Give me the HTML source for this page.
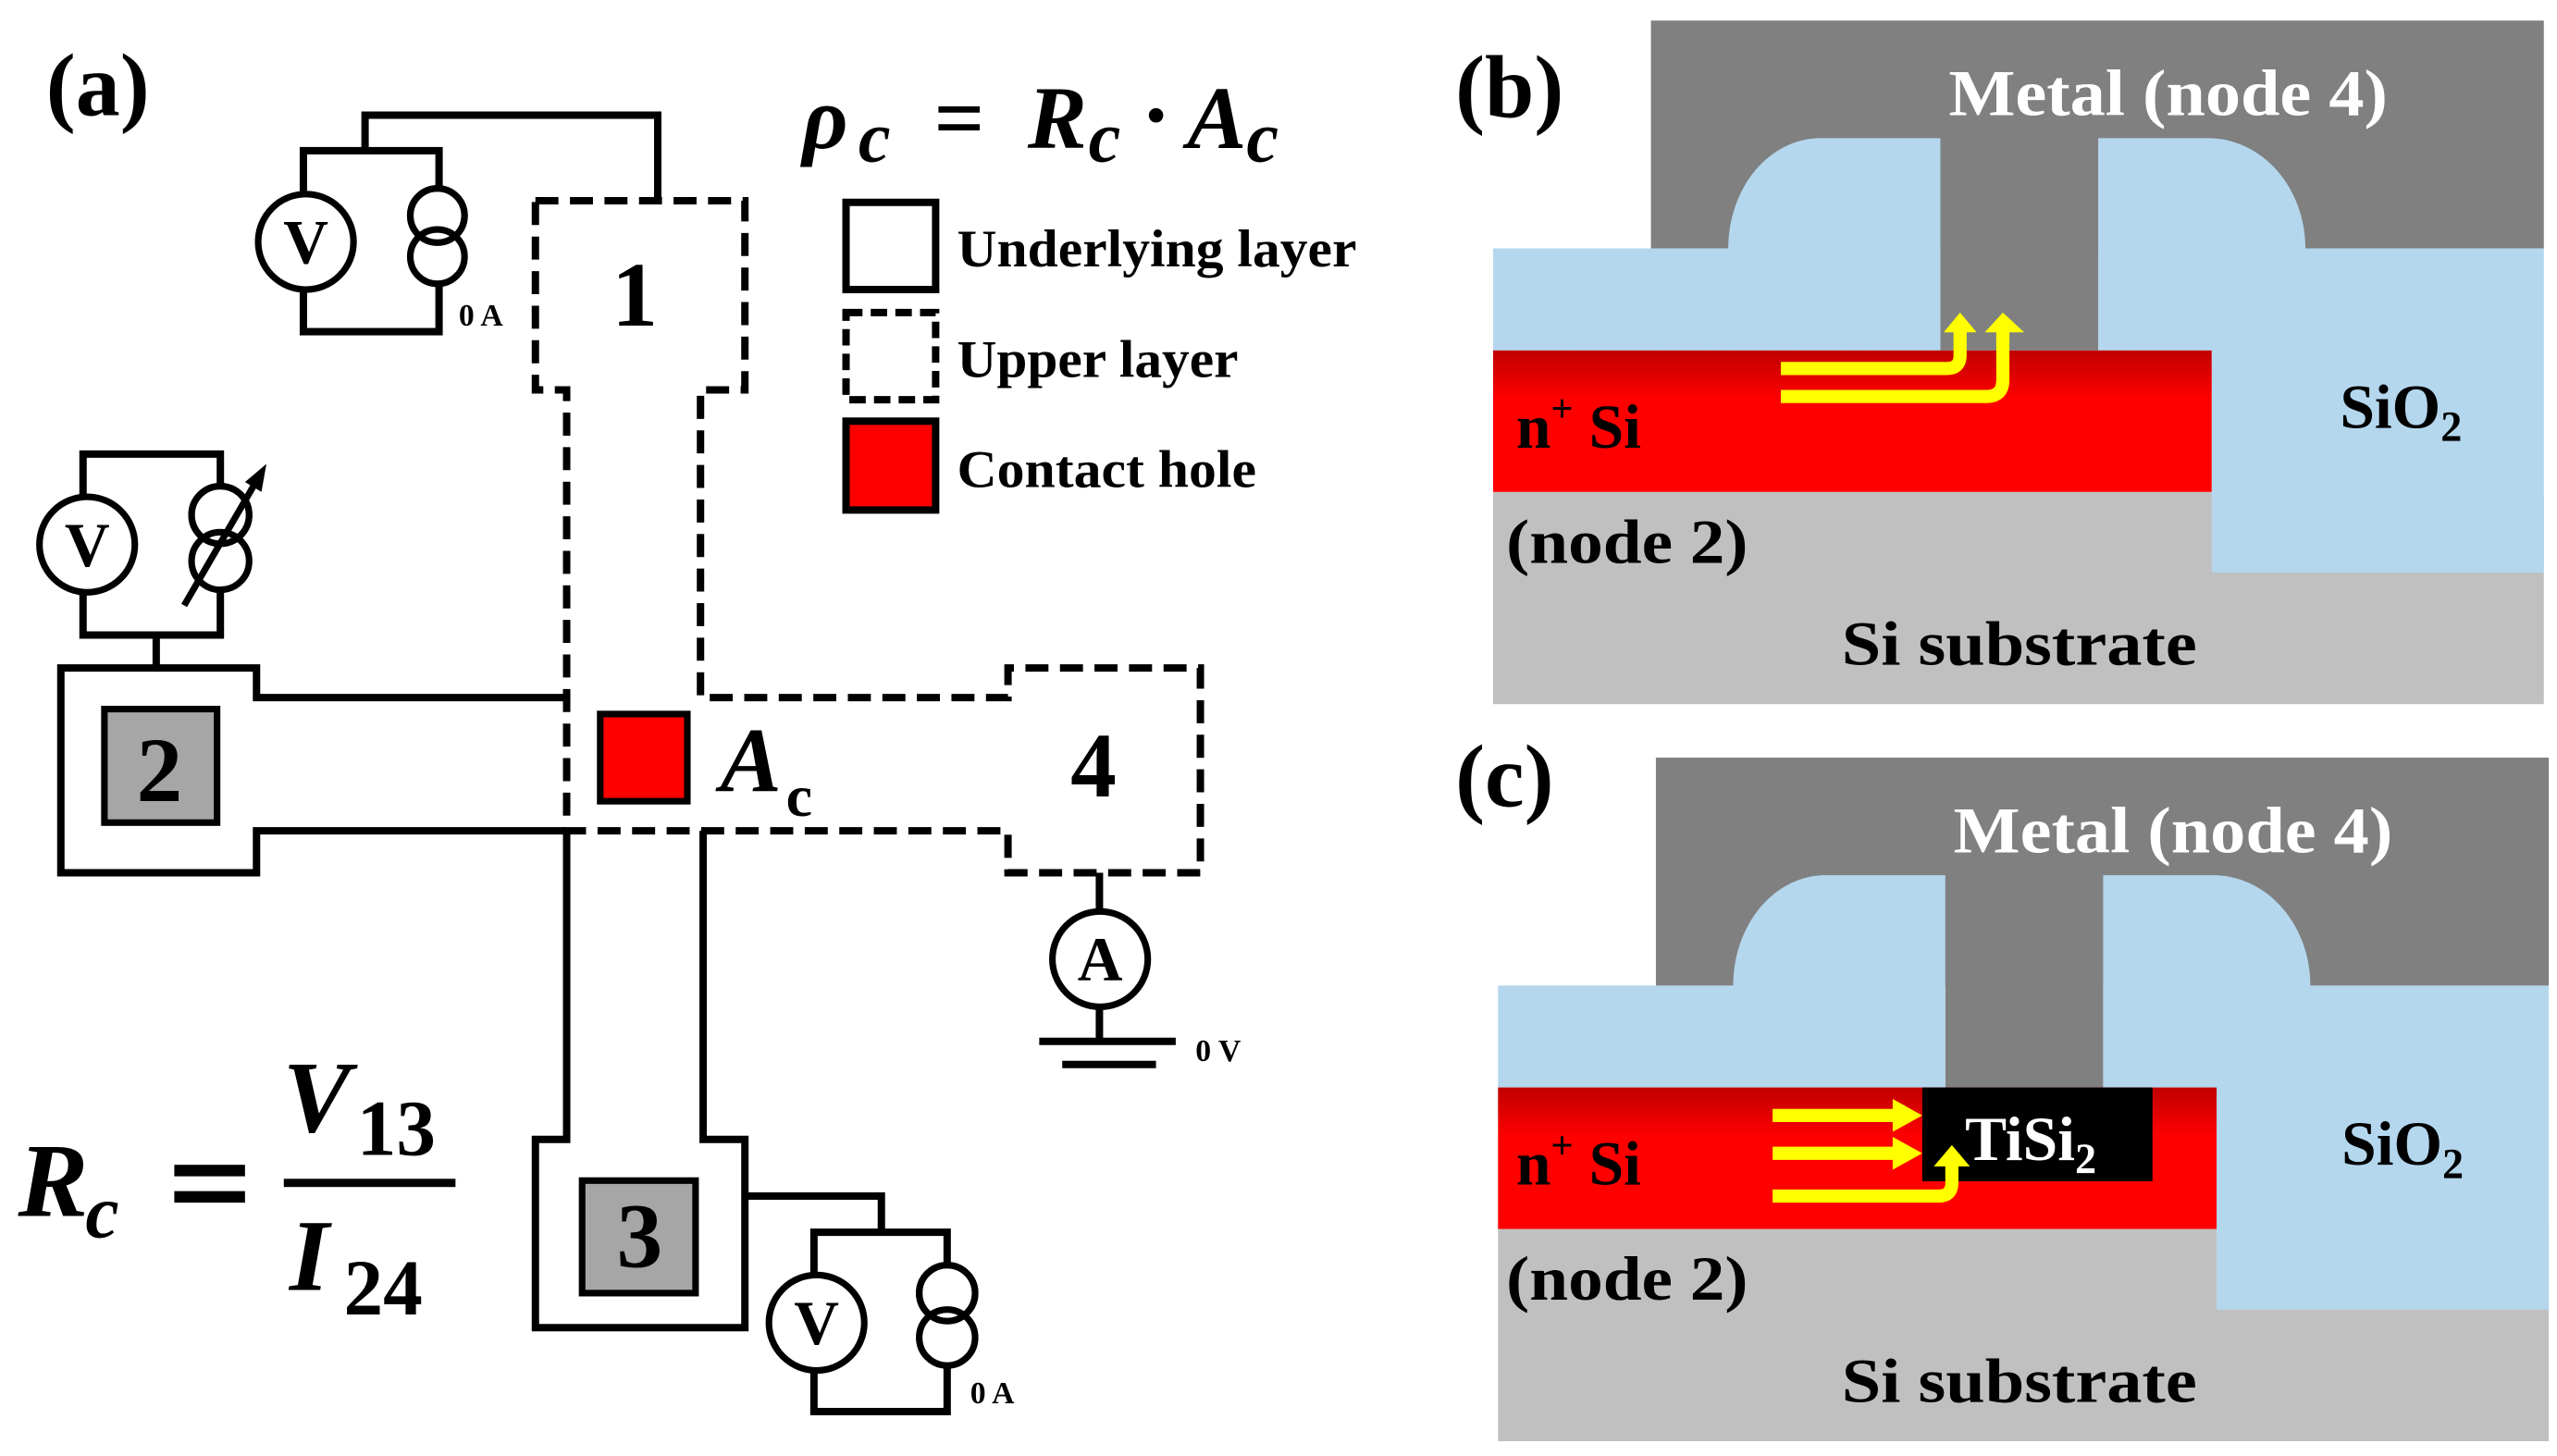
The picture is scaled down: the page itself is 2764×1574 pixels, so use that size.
<!DOCTYPE html>
<html><head><meta charset="utf-8"><style>
html,body{margin:0;padding:0;background:#fff;}
svg{display:block;}
text{font-family:"Liberation Serif",serif;font-weight:bold;}
</style></head><body>
<svg width="2764" height="1574" viewBox="0 0 1555 885" preserveAspectRatio="none" xmlns="http://www.w3.org/2000/svg">
<defs>
<linearGradient id="rg" x1="0" y1="0" x2="0" y2="1">
<stop offset="0" stop-color="#c00000"/><stop offset="0.35" stop-color="#ff0000"/><stop offset="1" stop-color="#ff0000"/>
</linearGradient>
</defs>
<rect width="1555" height="885" fill="#fff"/>

<!-- ===== Panel (a) ===== -->
<text x="28" y="70" font-size="54">(a)</text>
<g fill="none" stroke="#000" stroke-width="4.5" stroke-linejoin="miter">
<!-- upper layer dashed -->
<polygon points="325.6,122 453,122 453,237 426,237 426,424 613,424 613,406 730,406 730,530.5 613,530.5 613,505 344.6,505 344.6,237 325.6,237" stroke-dasharray="14,7"/>
<!-- underlying solid -->
<polyline points="344.6,424 156,424 156,406 37,406 37,530.5 156,530.5 156,505 344.6,505"/>
<polyline points="344.6,505 344.6,692.6 325.6,692.6 325.6,807 453,807 453,692.6 427.6,692.6 427.6,505"/>
<!-- top circuit -->
<polyline points="222,91.6 222,70 400,70 400,122"/>
<rect x="184.5" y="91.6" width="82.5" height="110"/>
<!-- left circuit -->
<rect x="50.5" y="276" width="83.5" height="110"/>
<line x1="95" y1="386" x2="95" y2="406"/>
<!-- bottom right circuit -->
<polyline points="453,727 536,727 536,749"/>
<rect x="495" y="749" width="81" height="109"/>
<!-- ammeter -->
<line x1="668.6" y1="530.5" x2="668.6" y2="633"/>
<line x1="632" y1="633" x2="715" y2="633"/>
<line x1="646" y1="647" x2="703" y2="647"/>
</g>
<!-- circles -->
<g fill="#fff" stroke="#000" stroke-width="4">
<circle cx="186" cy="147" r="29"/>
<circle cx="266" cy="131" r="16.5"/><circle cx="266" cy="156" r="16.5"/>
<circle cx="53" cy="331" r="29"/>
<circle cx="134" cy="313" r="17.5"/><circle cx="134" cy="341" r="17.5"/>
<circle cx="496.6" cy="804" r="29"/>
<circle cx="576" cy="786" r="17"/><circle cx="576" cy="813" r="17"/>
<circle cx="669" cy="583" r="29"/>
</g>
<g fill="none" stroke="#000" stroke-width="4">
<circle cx="266" cy="131" r="16.5"/>
<circle cx="134" cy="313" r="17.5"/>
<circle cx="576" cy="786" r="17"/>
</g>
<!-- variable source arrow -->
<line x1="112" y1="368" x2="155" y2="294" stroke="#000" stroke-width="4"/>
<polygon points="162,282 149,293 159,299" fill="#000"/>
<g font-size="38" text-anchor="middle">
<text x="186" y="160">V</text><text x="53" y="344">V</text><text x="496.6" y="817">V</text><text x="669" y="596">A</text>
</g>
<g font-size="19"><text x="279" y="198">0 A</text><text x="590" y="853">0 A</text><text x="727" y="645">0 V</text></g>
<!-- gray pads -->
<rect x="63.5" y="431" width="68.5" height="69" fill="#a6a6a6" stroke="#000" stroke-width="4"/>
<rect x="354" y="717.6" width="69" height="68.4" fill="#a6a6a6" stroke="#000" stroke-width="4"/>
<g font-size="56" text-anchor="middle">
<text x="97" y="487">2</text><text x="389" y="770">3</text><text x="386" y="198">1</text><text x="665" y="484">4</text>
</g>
<!-- contact -->
<rect x="365" y="434" width="53" height="53" fill="#ff0000" stroke="#000" stroke-width="4"/>
<text x="438" y="481" font-size="56" font-style="italic">A</text>
<text x="478" y="496" font-size="36">c</text>
<!-- legend -->
<g stroke="#000" stroke-width="4.5">
<rect x="514.5" y="123" width="54.5" height="53" fill="#fff"/>
<rect x="514.5" y="190" width="54.5" height="53" fill="#fff" stroke-dasharray="10,5"/>
<rect x="514.5" y="256" width="54.5" height="54" fill="#ff0000"/>
</g>
<g font-size="32">
<text x="582" y="162" textLength="243" lengthAdjust="spacingAndGlyphs">Underlying layer</text>
<text x="582" y="229" textLength="171" lengthAdjust="spacingAndGlyphs">Upper layer</text>
<text x="582" y="296" textLength="182" lengthAdjust="spacingAndGlyphs">Contact hole</text>
</g>
<!-- rho formula -->
<g font-style="italic">
<text x="488" y="90" font-size="54">ρ</text>
<text x="522" y="98" font-size="44">c</text>
<text x="568" y="90" font-size="54" font-style="normal">=</text>
<text x="625" y="90" font-size="54">R</text>
<text x="662" y="98" font-size="44">c</text>
<text x="694" y="88" font-size="54" font-style="normal">·</text>
<text x="722" y="90" font-size="54">A</text>
<text x="758" y="98" font-size="44">c</text>
</g>
<!-- Rc formula -->
<text x="11" y="739" font-size="64" font-style="italic">R</text>
<text x="52" y="752" font-size="46" font-style="italic">c</text>
<rect x="106" y="708" width="43" height="7" fill="#000"/>
<rect x="106" y="724" width="43" height="7" fill="#000"/>
<rect x="172.6" y="716.5" width="104.4" height="5" fill="#000"/>
<text x="172" y="688" font-size="62" font-style="italic">V</text>
<text x="217" y="702" font-size="48">13</text>
<text x="176" y="784" font-size="62" font-style="italic">I</text>
<text x="209" y="799" font-size="48">24</text>

<!-- ===== Panel (b) ===== -->
<text x="885" y="71" font-size="54">(b)</text>
<rect x="908" y="299" width="639" height="129" fill="#c0c0c0"/>
<rect x="1004" y="12.5" width="543" height="139" fill="#808080"/>
<rect x="1180" y="140" width="96" height="73" fill="#808080"/>
<path d="M908,151 H1051 V151 A56,67 0 0 1 1107,84 H1180 V213 H908 Z" fill="#b4d7ee"/>
<path d="M1276,84 H1343 A59,67 0 0 1 1402,151 H1547 V348 H1345 V213 H1276 Z" fill="#b4d7ee"/>
<rect x="908" y="213" width="437" height="86" fill="url(#rg)"/>
<g fill="none" stroke="#ffff00" stroke-width="8">
<path d="M1083,224 H1184 Q1192,224 1192,216 V198"/>
<path d="M1083,241 H1208 Q1218,241 1218,231 V198"/>
</g>
<polygon points="1182,202 1192,190 1202,202" fill="#ffff00"/>
<polygon points="1207,202 1218,190 1231,202" fill="#ffff00"/>
<text x="1185" y="70" font-size="40" fill="#fff" textLength="267" lengthAdjust="spacingAndGlyphs">Metal (node 4)</text>
<text x="922" y="272" font-size="38">n<tspan font-size="24" dy="-16">+</tspan><tspan dy="16"> Si</tspan></text>
<text x="1423" y="260" font-size="38">SiO<tspan font-size="26" dy="8">2</tspan></text>
<text x="916" y="342" font-size="38" textLength="147" lengthAdjust="spacingAndGlyphs">(node 2)</text>
<text x="1120" y="404" font-size="38" textLength="216" lengthAdjust="spacingAndGlyphs">Si substrate</text>

<!-- ===== Panel (c) ===== -->
<text x="885" y="490" font-size="54">(c)</text>
<g transform="translate(3,448)">
<rect x="908" y="299" width="639" height="129" fill="#c0c0c0"/>
<rect x="1004" y="12.5" width="543" height="139" fill="#808080"/>
<rect x="1180" y="140" width="96" height="73" fill="#808080"/>
<path d="M908,151 H1051 V151 A56,67 0 0 1 1107,84 H1180 V213 H908 Z" fill="#b4d7ee"/>
<path d="M1276,84 H1343 A59,67 0 0 1 1402,151 H1547 V348 H1345 V213 H1276 Z" fill="#b4d7ee"/>
<rect x="908" y="213" width="437" height="86" fill="url(#rg)"/>
<rect x="1166" y="213" width="140" height="57" fill="#000"/>
<g fill="none" stroke="#ffff00" stroke-width="8">
<path d="M1075,230 H1150"/>
<path d="M1075,253 H1150"/>
<path d="M1075,279 H1176 Q1184,279 1184,271 V258"/>
</g>
<polygon points="1148,220 1166,230 1148,240" fill="#ffff00"/>
<polygon points="1148,243 1166,253 1148,263" fill="#ffff00"/>
<polygon points="1173,261 1184,248 1195,261" fill="#ffff00"/>
<text x="1192" y="257" font-size="38" fill="#fff">TiSi<tspan font-size="26" dy="8">2</tspan></text>
<text x="1185" y="70" font-size="40" fill="#fff" textLength="267" lengthAdjust="spacingAndGlyphs">Metal (node 4)</text>
<text x="919" y="272" font-size="38">n<tspan font-size="24" dy="-16">+</tspan><tspan dy="16"> Si</tspan></text>
<text x="1421" y="260" font-size="38">SiO<tspan font-size="26" dy="8">2</tspan></text>
<text x="913" y="342" font-size="38" textLength="147" lengthAdjust="spacingAndGlyphs">(node 2)</text>
<text x="1117" y="404" font-size="38" textLength="216" lengthAdjust="spacingAndGlyphs">Si substrate</text>
</g>
</svg>
</body></html>
